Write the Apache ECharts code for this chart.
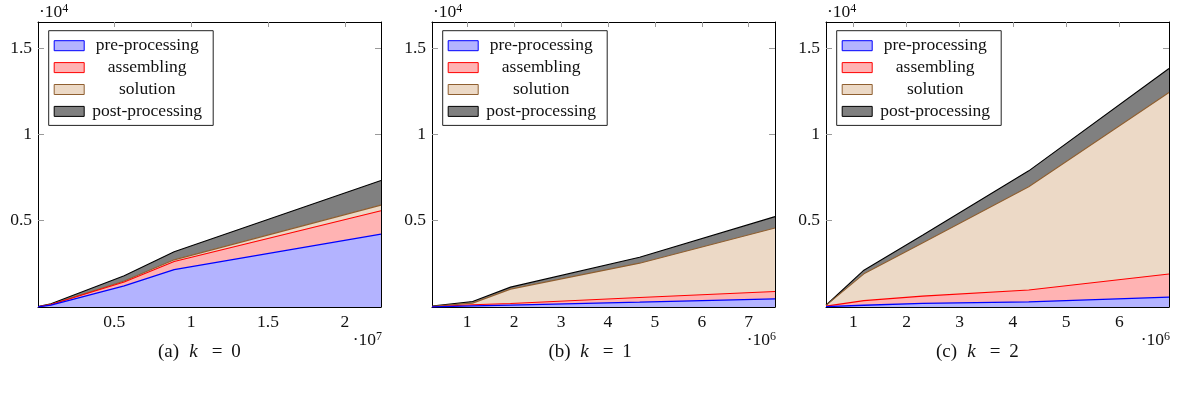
<!DOCTYPE html>
<html><head><meta charset="utf-8">
<script src="https://cdn.jsdelivr.net/npm/echarts@6/dist/echarts.min.js"></script>
<style>html,body{margin:0;padding:0;background:#fff}#c{width:1177px;height:398px}</style>
</head><body><div id="c"></div>
<script>
const seriesNames = ['pre-processing', 'assembling', 'solution', 'post-processing'];

// (a) k = 0
const dofsK0 = [45000, 890000, 5650000, 8900000, 22350000];
const preK0  = [12, 110, 1220, 2170, 4214];
const asmK0  = [4, 30, 225, 460, 1355];
const solK0  = [1, 10, 55, 100, 330];
const postK0 = [3, 35, 310, 470, 1420];

// (b) k = 1
const dofsK1 = [249000, 1115000, 1923000, 4674000, 7560000];
const preK1  = [10, 60, 110, 283, 474];
const asmK1  = [8, 70, 90, 266, 422];
const solK1  = [20, 95, 835, 1989, 3682];
const postK1 = [12, 93, 115, 346, 653];

// (c) k = 2
const dofsK2 = [488000, 1200000, 2300000, 4296000, 6930000];
const preK2  = [20, 100, 210, 300, 572];
const asmK2  = [30, 270, 420, 680, 1335];
const solK2  = [40, 1549, 3080, 5985, 10511];
const postK2 = [10, 214, 446, 919, 1387];

// tick labels
const xTicksK0 = [5e6, 1e7, 1.5e7, 2e7];
const xTicksK1 = [1e6, 2e6, 3e6, 4e6, 5e6, 6e6, 7e6];
const xTicksK2 = [1e6, 2e6, 3e6, 4e6, 5e6, 6e6];
const yTicks = [5000, 10000, 15000];
const xExp = [7, 6, 6];
const yExp = 4;
const captionLetters = ['(a)', '(b)', '(c)'];
const captionK = ['0', '1', '2'];

const panels = [
  {dofs: dofsK0, vals: [preK0, asmK0, solK0, postK0], ticks: xTicksK0},
  {dofs: dofsK1, vals: [preK1, asmK1, solK1, postK1], ticks: xTicksK1},
  {dofs: dofsK2, vals: [preK2, asmK2, solK2, postK2], ticks: xTicksK2}
];

const FONT = 'Liberation Serif';
const FS = 17.5;
const LFS = 17.5;
const fills = ['#b3b3ff', '#ffb3b3', '#ecd9c6', '#808080'];
const strokes = ['#0000ff', '#ff0000', '#8f5f30', '#000000'];
const lefts = [38, 432, 826];
const TOP = 22, W = 343, H = 285, YMAX = 16500;
const capCenters = [197, 588, 975];

function fmt(v) { return String(+v.toFixed(3)); }

const option = {animation: false, backgroundColor: '#fff', grid: [], xAxis: [], yAxis: [], series: [], legend: [], graphic: []};

panels.forEach((p, i) => {
  option.grid.push({left: lefts[i], top: TOP, width: W, height: H, show: false});
  const scale = Math.pow(10, xExp[i]);
  const xmin = p.dofs[0], xmax = p.dofs[p.dofs.length - 1];
  ['bottom', 'top'].forEach(pos => {
    option.xAxis.push({
      type: 'value', gridIndex: i, position: pos, min: xmin, max: xmax,
      axisLine: {show: true, onZero: false, lineStyle: {color: '#000', width: 1}},
      axisTick: {show: true, inside: true, length: 5, customValues: p.ticks, lineStyle: {color: '#9a9a9a', width: 1}},
      axisLabel: {show: pos === 'bottom', customValues: p.ticks, margin: 6, fontFamily: FONT, fontSize: FS, color: '#111',
        formatter: v => fmt(v / scale)},
      splitLine: {show: false}
    });
  });
  ['left', 'right'].forEach(pos => {
    option.yAxis.push({
      type: 'value', gridIndex: i, position: pos, min: 0, max: YMAX,
      axisLine: {show: true, onZero: false, lineStyle: {color: '#000', width: 1}},
      axisTick: {show: true, inside: true, length: 6, customValues: yTicks, lineStyle: {color: '#9a9a9a', width: 1}},
      axisLabel: {show: pos === 'left', customValues: yTicks, margin: 6, fontFamily: FONT, fontSize: FS, color: '#111',
        formatter: v => fmt(v / Math.pow(10, yExp))},
      splitLine: {show: false}
    });
  });
  // cumulative tops of the stack
  const cum = [];
  let run = p.dofs.map(() => 0);
  p.vals.forEach(arr => { run = run.map((r, j) => r + arr[j]); cum.push(run.slice()); });
  for (let s = 3; s >= 0; s--) {
    option.series.push({
      name: seriesNames[s], type: 'line', xAxisIndex: 2 * i, yAxisIndex: 2 * i,
      data: p.dofs.map((x, j) => [x, cum[s][j]]),
      symbol: 'none', silent: true,
      itemStyle: {color: fills[s], borderColor: strokes[s]},
      lineStyle: {color: strokes[s], width: s === 0 ? 1.3 : 1.1},
      areaStyle: {color: fills[s], opacity: 1, origin: 'start'}
    });
  }
  option.legend.push({
    orient: 'vertical', left: lefts[i] + 10.7, top: 30.7, selectedMode: false,
    backgroundColor: '#fff', borderColor: '#222', borderWidth: 1, borderRadius: 0,
    padding: [6, 8, 5, 5], itemWidth: 30, itemHeight: 10, itemGap: 3.9,
    data: seriesNames.map((n, s) => ({name: n, icon: 'rect',
      itemStyle: {color: fills[s], borderColor: strokes[s], borderWidth: 1}})),
    formatter: n => '{c|' + n + '}',
    textStyle: {fontFamily: FONT, fontSize: LFS, color: '#111', lineHeight: 17,
      rich: {c: {width: 116, align: 'center', fontFamily: FONT, fontSize: LFS, lineHeight: 17, color: '#111'}}}
  });
  option.graphic.push({
    type: 'text', left: lefts[i] + 1, top: 3, silent: true,
    style: {text: '·10{s|' + yExp + '}', fontFamily: FONT, fontSize: FS, fill: '#111',
      rich: {s: {fontFamily: FONT, fontSize: 12, verticalAlign: 'top', lineHeight: 12, fill: '#111'}}}
  });
  option.graphic.push({
    type: 'text', right: 1177 - (lefts[i] + W) - 1, top: 331, silent: true,
    style: {text: '·10{s|' + xExp[i] + '}', fontFamily: FONT, fontSize: FS, fill: '#111',
      rich: {s: {fontFamily: FONT, fontSize: 12, verticalAlign: 'top', lineHeight: 12, fill: '#111'}}}
  });
  option.graphic.push({
    type: 'text', x: capCenters[i], y: 352, silent: true,
    style: {text: '{p|' + captionLetters[i] + '}{k|k}{e|=}{z|' + captionK[i] + '}',
      fontFamily: FONT, fontSize: 19, fill: '#111', align: 'center', verticalAlign: 'middle',
      rich: {
        p: {width: 31, fontFamily: FONT, fontSize: 19, fill: '#111'},
        k: {width: 19, fontFamily: FONT, fontStyle: 'italic', fontSize: 19, fill: '#111'},
        e: {width: 28, fontFamily: FONT, fontSize: 19, fill: '#111'},
        z: {width: 10, fontFamily: FONT, fontSize: 19, fill: '#111'}
      }}
  });
});

const chart = echarts.init(document.getElementById('c'), null, {renderer: 'canvas'});
chart.setOption(option);
</script></body></html>
